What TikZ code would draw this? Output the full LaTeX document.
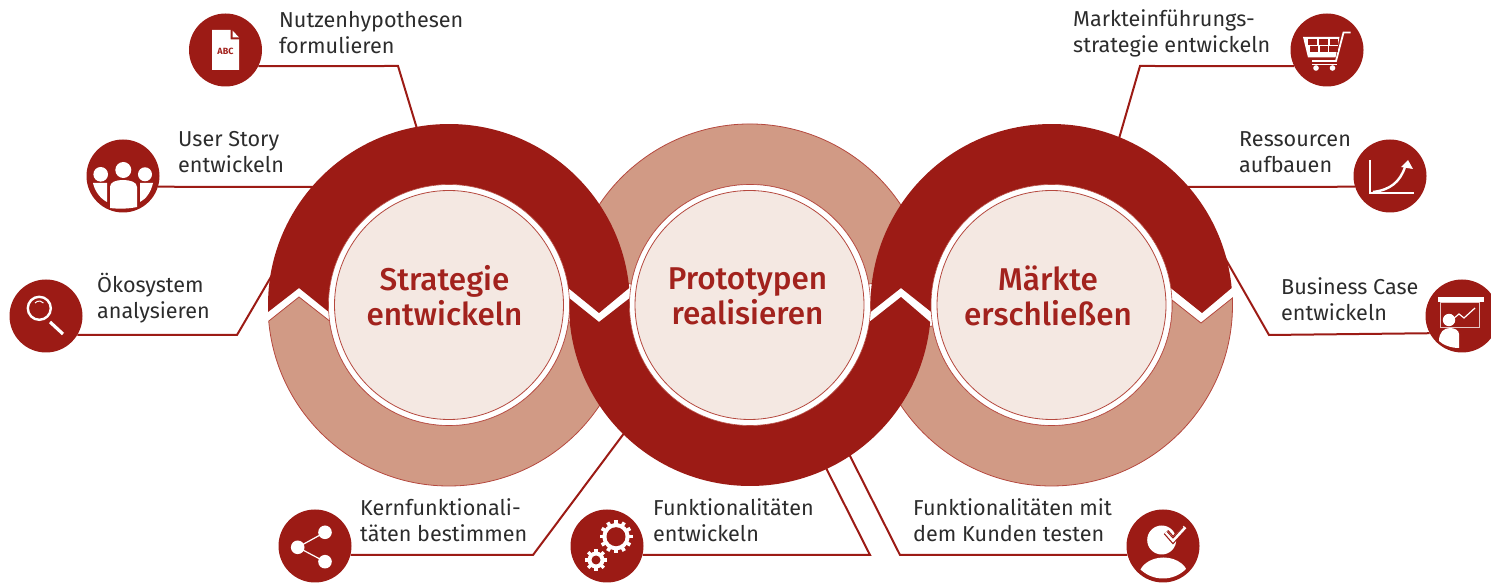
\documentclass[tikz,border=0pt]{standalone}
\usepackage{fontspec}
\setmainfont{Fira Sans}
\newfontfamily\hubfont{Fira Sans Medium}
\definecolor{darkred}{HTML}{9C1B15}
\definecolor{lightband}{HTML}{D19A85}
\definecolor{bandline}{HTML}{B5483E}
\definecolor{palefill}{HTML}{F4E8E2}
\definecolor{hubtext}{HTML}{A2221D}
\definecolor{bodytext}{HTML}{2C2C2C}
\tikzset{
  x=1pt,y=1pt,
  darkband/.style={fill=darkred},
  lightsector/.style={fill=lightband,draw=bandline,line width=0.8pt},
  halo/.style={circle,fill=white,draw=bandline,line width=0.6pt,minimum size=241pt,inner sep=0pt},
  hub/.style={circle,fill=palefill,draw=bandline,line width=0.8pt,minimum size=229pt,inner sep=0pt},
  hubtitle/.style={align=center,inner sep=0pt,text=hubtext,font=\hubfont\fontsize{31.5}{35}\selectfont},
  icon/.style={circle,fill=darkred,minimum size=73pt,inner sep=0pt},
  callout/.style={draw=darkred,line width=2pt,line join=miter},
  label/.style={anchor=west,align=left,inner sep=0pt,text=bodytext,font=\fontsize{21.6}{26}\selectfont},
}
\begin{document}
\begin{tikzpicture}
\begin{scope}[yshift=583pt,yscale=-1]
\clip (0,0) rectangle (1491,583);
\path[use as bounding box] (0,0) rectangle (1491,583);
% icons
\node[icon] (i1) at (225.5,50) {};
\node[icon] (i2) at (123,176) {};
\node[icon] (i3) at (46,316) {};
\node[icon] (i4) at (315,546) {};
\node[icon] (i5) at (607,546) {};
\node[icon] (i6) at (1163,546) {};
\node[icon] (i7) at (1462,316) {};
\node[icon] (i8) at (1390,176) {};
\node[icon] (i9) at (1327,50) {};
% connector bends and ends
\coordinate (b1) at (398,66);  \coordinate (e1) at (418,132);
\coordinate (e2) at (315,187);
\coordinate (b3) at (237,335); \coordinate (e3) at (275,270);
\coordinate (b4) at (533,555); \coordinate (e4) at (628,428);
\coordinate (b5) at (870,555); \coordinate (e5) at (822,460);
\coordinate (b6) at (900,555); \coordinate (e6) at (847,450);
\coordinate (b7) at (1269,335);\coordinate (e7) at (1225,258);
\coordinate (e8) at (1185,187);
\coordinate (b9) at (1140,66); \coordinate (e9) at (1118,142);
\draw[callout] (i1.-26) -- (b1) -- (e1);
\draw[callout] (i2.-17.5) -- (e2);
\draw[callout] (i3.-31) -- (b3) -- (e3);
\draw[callout] (i4.-14) -- (b4) -- (e4);
\draw[callout] (i5.-14) -- (b5) -- (e5);
\draw[callout] (i6.194) -- (b6) -- (e6);
\draw[callout] (i7.208) -- (b7) -- (e7);
\draw[callout] (i8.197.5) -- (e8);
\draw[callout] (i9.206) -- (b9) -- (e9);
% pale sectors
\path[lightsector,shift={(449,305)}] (174.9:181) arc[start angle=174.9,end angle=8,radius=181]
  -- (8:120.5) arc[start angle=8,end angle=172.4,radius=120.5] -- (-150,-8) -- cycle;
\path[lightsector,shift={(1051.5,305)}] (-2.2:181) arc[start angle=-2.2,end angle=170,radius=181]
  -- (170:120.5) arc[start angle=170,end angle=-2.4,radius=120.5] -- (149.5,18) -- cycle;
\path[lightsector,shift={(750,305)}] (190:181) arc[start angle=190,end angle=350,radius=181]
  -- (350:120.5) arc[start angle=350,end angle=190,radius=120.5] -- cycle;
% dark bands
\path[darkband,shift={(449,305)}] (177.8:181) arc[start angle=177.8,end angle=354.6,radius=181]
  -- (150,8) -- (351.9:120.5) arc[start angle=351.9,end angle=176.7,radius=120.5] -- (-150,-17) -- cycle;
\path[darkband,shift={(750,305)}] (182.2:181) arc[start angle=182.2,end angle=5.4,radius=181]
  -- (151,-8) -- (8.1:120.5) arc[start angle=8.1,end angle=183.3,radius=120.5] -- (-151,17) -- cycle;
\path[darkband,shift={(1051.5,305)}] (177.8:181) arc[start angle=177.8,end angle=354.6,radius=181]
  -- (150.5,8) -- (351.9:120.5) arc[start angle=351.9,end angle=176.7,radius=120.5] -- (-150.5,-17) -- cycle;
% hubs
\node[halo] (h1) at (449,305) {};
\node[halo] (h2) at (750,305) {};
\node[halo] (h3) at (1051.5,305) {};
\node[hub] (s1) at (449,305) {};
\node[hub] (s2) at (749.5,305) {};
\node[hub] (s3) at (1051.5,305) {};
\node[hubtitle] (n1) at (444.5,296) {Strategie\\entwickeln};
\node[hubtitle] (n2) at (747.5,296) {Prototypen\\realisieren};
\node[hubtitle] (n3) at (1048,296) {Märkte\\erschließen};
% labels
\node[label] (t1) at (279,33) {Nutzenhypothesen\\formulieren};
\node[label] (t2) at (178,152) {User Story\\entwickeln};
\node[label] (t3) at (97,298) {Ökosystem\\analysieren};
\node[label] (t4) at (360,520) {Kernfunktionali-\\täten bestimmen};
\node[label] (t5) at (653,520) {Funktionalitäten\\entwickeln};
\node[label] (t6) at (913,520) {Funktionalitäten mit\\dem Kunden testen};
\node[label] (t7) at (1281,299) {Business Case\\entwickeln};
\node[label] (t8) at (1239,152) {Ressourcen\\aufbauen};
\node[label] (t9) at (1073,33) {Markteinführungs-\\strategie entwickeln};
% document icon
\begin{scope}[shift={(225.5,50)}]
\fill[white] (-13.5,-20) -- (5,-20) -- (5,-10.5) -- (13.5,-10.5) -- (13.5,20) -- (-13.5,20) -- cycle;
\fill[white] (7,-19.5) -- (13.5,-12.5) -- (7,-12.5) -- cycle;
\node[text=hubtext,inner sep=0pt,font=\bfseries\fontsize{9}{10}\selectfont] (abc) at (0,1) {ABC};
\end{scope}
% people icon
\begin{scope}[shift={(123,176)}]
\fill[white] (0.3,-6) circle (8);
\fill[white] (-22.3,-1.7) circle (7.3);
\fill[white] (22,-1.7) circle (7);
\fill[white] (-13,32) -- (-13,11) .. controls (-13,6) and (-7,4) .. (0,4) .. controls (7,4) and (14,6) .. (14,11) -- (14,31) .. controls (5,33) and (-5,33) .. (-13,32) -- cycle;
\fill[white] (-30,7) -- (-16,7) -- (-16,26) .. controls (-22,23) and (-28,16) .. (-30,7) -- cycle;
\fill[white] (30,7) -- (17,7) -- (17,26) .. controls (23,23) and (28,16) .. (30,7) -- cycle;
\end{scope}
% magnifier icon
\begin{scope}[shift={(46,316)}]
\draw[white,line width=2.4pt] (-6.7,-7.7) circle (11.5);
\draw[white,line width=3.2pt] (4,6) -- (17,18);
\draw[white,line width=1pt] (-11,-13) arc[start angle=220,end angle=320,radius=5.5];
\end{scope}
% share icon
\begin{scope}[shift={(315,546)}]
\draw[white,line width=1.2pt] (10,-13.7) -- (-17.3,1.3) -- (10,15.7);
\fill[white] (10,-13.7) circle (6.8) (-17.3,1.3) circle (6.8) (10,15.7) circle (6.8);
\end{scope}
% gears icon
\begin{scope}[shift={(616,536.7)}]
\foreach \a in {0,30,...,330} {\fill[white,rotate=\a] (-1.8,-16.5) rectangle (1.8,0);}
\fill[white] (0,0) circle (13.5);
\fill[darkred] (0,0) circle (9.5);
\end{scope}
\begin{scope}[shift={(596,560)}]
\foreach \a in {0,45,...,315} {\fill[white,rotate=\a] (-1.6,-11) rectangle (1.6,0);}
\fill[white] (0,0) circle (8.5);
\fill[darkred] (0,0) circle (4.5);
\end{scope}
% customer check icon
\begin{scope}[shift={(1163,546)}]
\fill[white] (-1.3,-6) circle (14.5);
\begin{scope}
\clip (0,0) circle (32.5);
\fill[white] (0.5,31) ellipse (25 and 19.5);
\end{scope}
\draw[darkred,line width=6pt] (3,-14) -- (10,-6) -- (22,-19);
\draw[white,line width=3.6pt] (3,-14) -- (10,-6) -- (22,-19);
\draw[darkred,line width=1pt] (4,-14.5) -- (10,-8) -- (20,-19);
\end{scope}
% presentation icon
\begin{scope}[shift={(1462,316)}]
\fill[white] (-24,-19) rectangle (21.5,-13.5);
\draw[white,line width=0.9pt,opacity=.75] (-22,-13.5) rectangle (17,11);
\draw[white,line width=1.2pt] (-9,3) -- (-3,-2) -- (2,2) -- (13,-8);
\fill[white] (-13,4) circle (6.2);
\fill[white] (-23,25) .. controls (-23,16) and (-18,12) .. (-12,12) .. controls (-8,12) and (-3,14) .. (-3,18) -- (-3,32) .. controls (-11,32) and (-19,29) .. (-23,25) -- cycle;
\end{scope}
% growth chart icon
\begin{scope}[shift={(1390,176)}]
\draw[white,line width=1.6pt] (-20,-16) -- (-20,17) -- (24,17);
\draw[white,line width=2.4pt] (-17,16) .. controls (0,14) and (10,6) .. (15,-9);
\fill[white] (18,-16) -- (23,-7) -- (11,-9) -- cycle;
\end{scope}
% cart icon
\begin{scope}[shift={(1327,50)}]
\draw[white,line width=1.8pt] (23.5,-17.5) -- (16.5,-17.5) -- (9,11) -- (-15,11);
\fill[white] (-24,-13) -- (12.5,-13) -- (8.5,7.5) -- (-19,7.5) -- cycle;
\foreach \x/\y in {-19/-10.5,-8/-10.5,2.5/-10.5,-17.5/-3.5,-7.5/-3.5,2/-3.5} {\fill[darkred] (\x,\y) rectangle ++(8.8,5.6);}
\fill[white] (-11,18) circle (2.8) (5.5,18) circle (2.8);
\draw[white,line width=1.4pt] (-15,14.5) -- (10,14.5);
\end{scope}
\end{scope}
\end{tikzpicture}
\end{document}
